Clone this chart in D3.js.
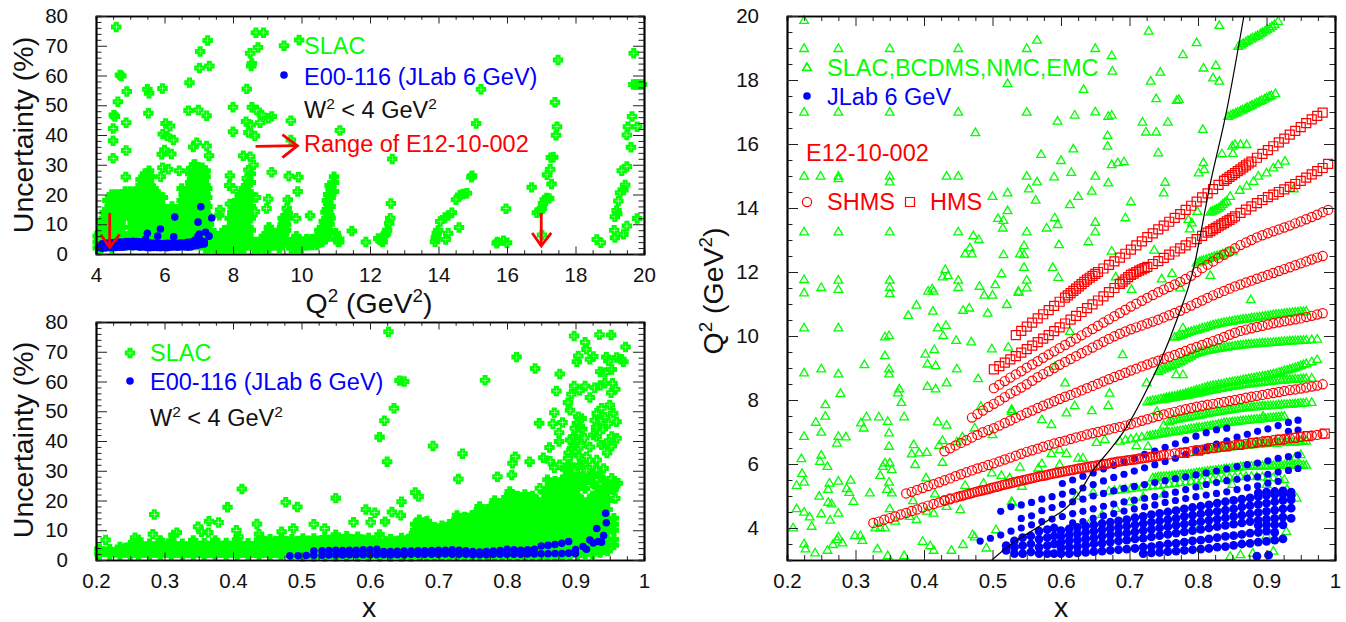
<!DOCTYPE html>
<html>
<head>
<meta charset="utf-8">
<script src="https://cdnjs.cloudflare.com/ajax/libs/d3/7.8.5/d3.min.js"></script>
<style>
  body { margin: 0; background: #fff; }
  text { font-family: "Liberation Sans", Arial, sans-serif; }
</style>
</head>
<body>
<svg id="chart" width="1346" height="622"></svg>
<script>
// tick labels
var q2Ticks = [4, 6, 8, 10, 12, 14, 16, 18, 20]
var q2Minor = [4.5, 5, 5.5, 6.5, 7, 7.5, 8.5, 9, 9.5, 10.5, 11, 11.5, 12.5, 13, 13.5, 14.5, 15, 15.5, 16.5, 17, 17.5, 18.5, 19, 19.5]
var uncTicks = [0, 10, 20, 30, 40, 50, 60, 70, 80]
var uncMinor = [2, 4, 6, 8, 12, 14, 16, 18, 22, 24, 26, 28, 32, 34, 36, 38, 42, 44, 46, 48, 52, 54, 56, 58, 62, 64, 66, 68, 72, 74, 76, 78]
var xTicks = [0.2, 0.3, 0.4, 0.5, 0.6, 0.7, 0.8, 0.9, 1]
var xMinor = [0.225, 0.25, 0.275, 0.325, 0.35, 0.375, 0.425, 0.45, 0.475, 0.525, 0.55, 0.575, 0.625, 0.65, 0.675, 0.725, 0.75, 0.775, 0.825, 0.85, 0.875, 0.925, 0.95, 0.975]
var kinTicks = [4, 6, 8, 10, 12, 14, 16, 18, 20]
var kinMinor = [3, 3.5, 4.5, 5, 5.5, 6.5, 7, 7.5, 8.5, 9, 9.5, 10.5, 11, 11.5, 12.5, 13, 13.5, 14.5, 15, 15.5, 16.5, 17, 17.5, 18.5, 19, 19.5]

// top left panel: SLAC isolated points [Q2, uncertainty]
var slacQ2Scatter = [[4.59,76.3],[4.7,60.2],[4.74,59.8],[4.9,54.6],[4.64,51.2],[4.52,46.7],[4.55,46.2],[4.5,42.2],[4.88,44.1],[4.5,38.1],[4.88,34.8],[4.5,32.2],[4.87,25.9],
[5.5,55.4],[5.55,54],[5.53,47.3],[5.94,55.6],[6.03,43.9],[6.16,43],[5.95,40.3],[6.08,39.7],[6.26,38.3],[6,35],[5.92,33.5],[6.2,33.6],[5.94,29],[6.11,28.5],[5.89,26],[6.43,28],[6.7,27.9],
[6.73,57.6],[7.02,62.5],[7.31,63.2],[7.04,68.1],[7.26,71.8],[6.7,48.2],[6.99,48.4],[7.23,46.5],[6.84,36],[6.94,37.4],[7.23,36.3],[7.3,33],[6.89,30.1],
[8,49.3],[8,41.1],[8.4,55.5],[8.67,74.4],[8.89,74.4],[8.73,69.4],[8.5,67.5],[8.55,64],[8.53,63.2],[8.55,49.3],[8.69,48.4],[8.84,46.7],[8.79,44.1],[8.38,44.5],[8.52,43.4],[8.45,40.8],[8.64,39.7],[9.13,46.2],[9.03,45.6],[9.69,44.8],[9.49,70],[9.93,71.9],[9.69,38.3],[9.13,27.5],[9.63,26.2],[9.91,25.8],[9.89,21],[9.6,18.2],[9.57,15.4],[9.6,13.7],[9.84,12],[10.25,12.9],
[8.3,33],[8.5,32.7],[8.6,29.9],[7.91,26.3],[8.45,28.2],[7.89,23],[8.0,22],[8.4,25.4],[8.67,19],[9.03,18.5],[8.64,14.2],[8.98,15.3],[7.62,14.8],[7.91,16.8],
[11.12,41.5],[12.61,17],[12.65,31.9],[11.47,7.7],[15.24,55.4],[15.1,43.9],[14.98,26.3],[14.96,25.8],[17.49,65.2],[17.4,51],[17.46,42.8],[17.43,39.9],[17.35,32.5],[17.28,32.4],[17.26,28.5],[17.17,26.6],[17.3,23.5],[16.72,22.4],[15.97,15.2],
[19.7,67.5],[19.69,57],[19.76,57],[19.82,57],[19.88,57],[19.94,57],[19.65,46.2],[19.53,42.8],[19.8,42.8],[19.5,40],[19.62,35.9],[19.5,29.4],[19.35,28],[19.45,23.2],[19.4,21.5],[19.3,20.6],[19.25,17.8],[19.2,14.6],[19.15,12.5],[19.22,13.5],[19.8,11.9],[19.5,9.4],[19.4,6.6],[19.13,8],[19.15,5.5],[18.62,4.9],[18.74,3.8],
[13.9,4.1],[13.92,5.5],[13.95,7],[13.99,8],[14.05,10.9],[14.19,12.3],[14.28,12.9],[14.39,13.9],[14.51,18.2],[14.63,19.8],[14.72,20.2],[14.83,20.4],[14.6,8.9],[14.28,7],[14.21,4.9],
[12.24,5.2],[11.88,4],[11.07,4.1],[12.37,4],[12.44,6.4],[12.5,8],[12.56,10.3],[12.59,12],[12.35,5],[12.3,4.6],[12.47,7],
[15.7,3.6],[15.72,4],[15.9,4.5],[16,3.8],[17.02,6.4],[16.87,13.9],[16.95,14.3],[17.02,15.3],[17.1,18.2],[17.23,18.7],[17.05,17],[17.16,18.8],[16.98,14.8]]

// top left panel: SLAC dense columns [Q2, uncertainty, uncertainty, ...]
var slacQ2Dense = [[4.05,2,4,6],[4.15,2,5,8,11],[4.25,3,6,9,12,14],[4.33,4,8,12,15,18],[4.46,2,5,9,13,17,20],[4.6,3,6,10,14,17,20],[4.72,3,7,11,15,18,20],[4.85,3,6,15,18,21],[5,3,6,9,12,16,19,21],[5.14,3,6,10,13,17,21],[5.3,3,7,11,15,19,23,25],[5.43,3,7,11,15,19,23,27],[5.55,4,8,12,16,20,24,28],[5.68,3,6,10,14,18,22],[5.82,3,6,10,13,18,20],[5.95,3,6,9,13,16,19],[6.1,3,6,9,12,14],[6.22,3,6,9,12,16],[6.36,3,6,9,12,15],[6.5,3,6,9,12,15,18,22],[6.62,3,6,9,12,15,18,20],[6.75,3,6,9,12,15,18,21,24,27],[6.86,3,6,9,12,15,18,21,24,27,30],[6.98,3,6,9,12,15,18,21,24,27,29],[7.1,3,6,9,12,15,18,21,24,27,29],[7.2,2,5,8,11,14,17,20,23,26,28],[7.3,2,4,7,10],[7.45,2,4,7],[7.6,2,4,6,13],[7.75,2,4,6,8],[7.9,2,4,6,9,12],[8.05,2,4,7,10,13,16],[8.2,2,5,8,11,14,17,20],[8.32,2,5,8,11,14,17,20,22],[8.45,3,6,9,12,15,18,21,24],[8.62,2,4],[8.75,2,4],[8.9,2,4,6],[9.05,2,4,6,8,9],[9.2,3,6],[9.35,2,4,6,8],[9.45,3,6,8,10,12],[9.55,4,8,10,12],[9.7,2,4],[9.85,2,4,6],[10,2,4],[10.15,3,5],[10.3,3,5],[10.45,3,5,6],[10.6,4,7,9],[10.7,5,8,11,14],[10.78,8,11,14,17,20],[10.85,12,16,19,22],[10.95,21,24,26],[11,5,7],[11.1,4,5]]
var slacQ2DenseMid = [[4.1,3,5,7],[4.2,3.5,6.5,9.5],[4.3,4.5,7.5,10.5,13],[4.4,3,6,10,14,16],[4.53,3.5,7,11,15,18.5],[4.66,4.5,8,12,16,19],[4.78,5,9,13,16.5,19.5],[4.92,4.5,16.5,19.5],[5.07,4.5,7.5,11,14,17.5,20],[5.22,4.5,8,12,15,19],[5.36,5,9,13,17,21,24],[5.49,5,9,13,17,21,25],[5.62,5,10,14,18,22,26],[5.75,4.5,8,12,16,20],[5.88,4.5,8,11.5,15],[6.02,4.5,7.5,11,14.5],[6.16,4.5,7.5,10.5],[6.3,4.5,7.5,10.5,14],[6.43,4.5,7.5,10.5,13.5],[6.56,4.5,7.5,10.5,13.5,16.5,20],[6.68,4.5,7.5,10.5,13.5,16.5,19,22],[6.8,4.5,7.5,10.5,13.5,16.5,19.5,22.5,25],[6.92,4.5,7.5,10.5,13.5,16.5,19.5,22.5,25.5,28],[7.04,4.5,7.5,10.5,13.5,16.5,19.5,22.5,25.5,28],[7.15,3.5,6.5,9.5,12.5,15.5,18.5,21.5,24.5,27],[7.25,3.5,6.5,9.5,13,16,19,22],[7.38,3,5.5],[7.52,3,5],[7.68,3,5],[7.82,3,5,7],[7.98,3,5.5,8.5,11.5,14],[8.12,3,5.5,9,12,15,18],[8.26,3.5,6.5,9.5,12.5,15.5,18.5],[8.38,3.5,6.5,9.5,12.5,15.5,18.5,21.5,23],[8.52,4,8,12,16,20,24,27],[9.13,3,5,7],[9.5,5,7,9,11],[10.08,3,4],[10.22,3,4],[10.38,4],[10.52,4,6,8],[10.65,5,8,11],[10.74,6,9,12,15,18],[10.82,10,13,16,20,23]]

// top left panel: E00-116
var jlabQ2Dense = [[4.08,2.2],[4.18,1.9,3.4],[4.28,2,3.6],[4.38,2.2,3.7],[4.48,2.1,3.8],[4.58,2.2,3.9],[4.68,2.3,4],[4.78,2.3,4],[4.88,2.4,4.2],[4.98,2.5,4.2],[5.08,2.4,4.3],[5.18,2.5,4.2],[5.28,2.3,4.1],[5.38,2.4,4],[5.48,2.2,3.8],[5.58,2.1,3.7],[5.68,2.2,3.6],[5.78,2.2,3.7],[5.88,2.1,3.5],[5.98,2.2,3.5],[6.08,2.1,3.6],[6.18,2.3,3.6],[6.28,2.4,3.5],[6.38,2.3,3.6],[6.48,2.4,3.7],[6.58,2.4,3.7],[6.68,2.3,3.9],[6.78,2.4,4],[6.88,2.8,4.6],[6.98,3,5.1],[7.06,3.2,4.6],[7.16,3.4,4.1]]
var jlabQ2Scatter = [[5.5,7],[5.45,5],[5.8,6],[5.88,8.4],[6.27,5.8],[6.3,12.4],[6.98,10.7],[7.06,15.9],[7.38,12.1],[7.2,7.3],[7.3,6],[6.97,5.9],[7.02,6.7]]

// bottom left panel: SLAC isolated points [x, uncertainty]
var slacXScatter = [[0.627,76.7],[0.898,75.3],[0.935,75.7],[0.952,75.6],[0.914,73.2],[0.973,71.6],[0.96,68.1],[0.916,70.8],[0.904,68.6],[0.902,66.6],[0.926,68.4],[0.921,67.5],[0.945,68.2],[0.948,66.9],[0.97,66.6],[0.967,67.5],[0.936,63.3],[0.943,63],[0.953,64],[0.814,68.2],[0.841,64.4],[0.877,62.5],[0.768,60.4],[0.643,60.3],[0.65,60],[0.635,51],[0.621,46.8],[0.614,41.3],[0.625,33],[0.692,38.3],[0.735,35.7],[0.729,27.2],[0.786,28],[0.807,28.6],[0.812,34.7],[0.808,32.5],[0.833,33],[0.55,20.8],[0.666,22.7],[0.671,21.3],[0.646,19.6],[0.594,17],[0.607,15.9],[0.632,16.1],[0.645,15],[0.576,12.7],[0.601,12.7],[0.622,12.9],
[0.214,6.7],[0.285,15.3],[0.413,23.9],[0.392,17.7],[0.477,19.4],[0.494,17.8],[0.365,13],[0.379,12.6],[0.349,11.2],[0.435,12.1],[0.518,12],[0.534,10.6],[0.488,10.6],[0.405,10],[0.318,9.2],[0.283,8.7],[0.257,7.5],[0.438,8.7],[0.408,7.8],[0.364,9.2],[0.354,9.5],[0.313,8.4],[0.471,9.5],
[0.898,58.5],[0.894,55.7],[0.906,57],[0.914,58.5],[0.921,54.6],[0.928,57.9],[0.936,58.7],[0.943,59.4],[0.954,59.4],[0.958,57.4],[0.952,56.2],[0.872,56.8],[0.889,52.9],[0.892,50.3],[0.869,49.5],[0.847,46],[0.867,45.8],[0.881,46.2],[0.876,42.8],[0.876,39.8],[0.862,37.8],[0.853,34.4],[0.863,33.2],[0.877,32],[0.848,24.1],
[0.904,48.2],[0.909,47.6],[0.899,44.3],[0.897,41.5],[0.892,40.3],[0.906,44.8],[0.904,42.6],[0.926,42],[0.931,41.5],[0.921,38],[0.938,38.7],[0.953,41.5],[0.96,40.9],[0.945,39.2],[0.953,38.3],[0.948,45.9],[0.96,46.5],[0.931,49.3],[0.938,51],[0.95,52.1],[0.955,49.3],[0.928,47],[0.936,47],[0.899,36.4],[0.889,34.2],[0.916,34.7],[0.931,33.6],[0.906,31.9],[0.916,30.2],[0.931,30.2],[0.941,30.8],[0.899,29.7],[0.953,27.5],[0.962,25.8],[0.955,23.5],[0.958,20.7],[0.9,40],[0.908,38.5],[0.913,41],[0.895,37.5],[0.91,44],[0.902,46],[0.898,38.5],[0.89,36],[0.885,30.5],[0.869,31],[0.905,35],[0.912,32],[0.925,32],[0.946,36],[0.94,44],[0.943,48],[0.93,44.5]]

// bottom left panel: SLAC dense columns [x, uncertainty, uncertainty, ...]
var slacXDense = [[0.205,2,3.8],[0.22,1.8,3.6],[0.235,1.7,3.4,4.4],[0.25,1.6,3.5,5],[0.262,1.6,3.5,5.5,6.8],[0.278,1.6,3.6,5.5],[0.294,1.5,3.5,5.5,6.6],[0.31,1.5,3.5,5.6,6.5],[0.326,1.5,3.5,5.5],[0.342,1.5,3.6,5.6,6.6],[0.358,1.5,3.6,5.7],[0.374,1.5,3.5,5.6,6.6],[0.39,1.5,3.6,5.7],[0.406,1.5,3.6,5.7,6.8],[0.422,1.5,3.6,5.6],[0.438,1.5,3.5,5.6,6.8],[0.454,1.5,3.5,5.6,7],[0.47,1.4,3.5,5.7,7.2],[0.486,1.4,3.5,5.6,7],[0.502,1.2,3.6,5.7,7.2],[0.518,1.2,3.6,5.8,7.2],[0.534,1.2,3.6,5.8,7.6],[0.55,1.2,3.6,5.8,8.5],[0.566,1.2,3.6,6,8],[0.582,1.2,3.6,6,7.8],[0.598,1.2,3.6,5.8,7.4],[0.614,1.2,3.5,5.6,8.6],[0.63,1.2,3.5,5.6,7],[0.646,1.2,3.5,5.6,7.4],[0.66,1.2,3.6,6,8],
[0.672,1.3,4,6.5,9,11.5,13.5],[0.683,1.3,4,6.5,9,11.5,13],[0.694,1.3,4,6.5,9,11],[0.705,1.3,4,6.5,9,11.5],[0.716,1.3,4,6.5,9,11,12],[0.727,1.3,4,6.5,9,11.5,15],[0.738,1.3,4,6.5,9,11.5,14.5],[0.749,1.3,4,6.5,9,11.5,15],[0.76,1.3,4,6.5,9,11.5,14,18],[0.771,1.3,4,6.5,9,11.5,14,17],[0.782,1.3,4,6.5,9,11.5,14,16.5,20],[0.793,1.3,4,6.5,9,11.5,14,16.5,19],[0.804,1.3,4,6.5,9,11.5,14,16.5,19,23],[0.815,1.3,4,6.5,9,11.5,14,16.5,19,21.5],[0.826,1.3,4,6.5,9,11.5,14,16.5,19,22],[0.837,1.3,4,6.5,9,11.5,14,16.5,19,21.5],[0.848,1.3,4,6.5,9,11.5,14,16.5,19],[0.859,1.3,4,6.5,9,11.5,14,16.5,19,21.5,24,27],[0.87,1.3,4,6.5,9,11.5,14,16.5,19,21.5,24,26.5],[0.881,1.3,4,6.5,9,11.5,14,16.5,19,21.5,24,27],[0.892,1.5,4,6.5,9,11.5,14,16.5,19,21.5,24,26.5,29,32],[0.903,1.5,4,6.5,9,11.5,14,16.5,19,21.5,24,26],[0.914,2,4,6.5,9,11.5,14,16.5,19,24,27],[0.925,2,4,6.5,9,11.5,14,16.5,19,21.5,26,29],[0.936,2.5,4.5,7,9.5,12,14,16.5,19,21,23,28],[0.947,3,5,7,9.5,12,14,17,20,23,25.5],[0.956,5,7,10,12,14,24,26]]
var slacXDenseMid = [[0.212,2.8],[0.228,2.6],[0.243,2.5,4],[0.256,2.5,4.3],[0.27,2.5,4.5],[0.286,2.5,4.5],[0.302,2.5,4.5],[0.318,2.5,4.5],[0.334,2.5,4.5],[0.35,2.5,4.6],[0.366,2.5,4.6],[0.382,2.5,4.6],[0.398,2.5,4.6],[0.414,2.5,4.6],[0.43,2.5,4.6],[0.446,2.5,4.6,6.4],[0.462,2.5,4.6,6.4],[0.478,2.5,4.6,6.4],[0.494,2.4,4.6,6.4],[0.51,2.4,4.7,6.5],[0.526,2.4,4.7,6.5],[0.542,2.4,4.7,6.8],[0.558,2.4,4.8,7],[0.574,2.4,4.8,7],[0.59,2.4,4.8,6.8],[0.606,2.4,4.6,6.6],[0.622,2.4,4.5,6.3],[0.638,2.4,4.5,6.3],[0.654,2.4,4.6,6.6],[0.666,2.6,5,7.5,10,12],
[0.678,2.6,5.2,7.8,10.2,12.4],[0.689,2.6,5.2,7.8,10.2],[0.7,2.6,5.2,7.8,10.2],[0.711,2.6,5.2,7.8,10.2],[0.722,2.6,5.2,7.8,10.2,12.5],[0.733,2.6,5.2,7.8,10.2,13],[0.744,2.6,5.2,7.8,10.2,13],[0.755,2.6,5.2,7.8,10.2,12.8,16],[0.766,2.6,5.2,7.8,10.2,12.8,15.5],[0.777,2.6,5.2,7.8,10.2,12.8,15.2,18],[0.788,2.6,5.2,7.8,10.2,12.8,15.2,17.8],[0.799,2.6,5.2,7.8,10.2,12.8,15.2,17.8,21],[0.81,2.6,5.2,7.8,10.2,12.8,15.2,17.8,20.2],[0.821,2.6,5.2,7.8,10.2,12.8,15.2,17.8,20.2],[0.832,2.6,5.2,7.8,10.2,12.8,15.2,17.8,20.2],[0.843,2.6,5.2,7.8,10.2,12.8,15.2,17.8,20.2],[0.854,2.6,5.2,7.8,10.2,12.8,15.2,17.8,20.2,22.8],[0.865,2.6,5.2,7.8,10.2,12.8,15.2,17.8,20.2,22.8,25.2],[0.876,2.6,5.2,7.8,10.2,12.8,15.2,17.8,20.2,22.8,25.2],[0.887,2.8,5.2,7.8,10.2,12.8,15.2,17.8,20.2,22.8,25.2,28,30.5],[0.898,2.8,5.2,7.8,10.2,12.8,15.2,17.8,20.2,22.8,25.2,27.5],[0.909,3,5.2,7.8,10.2,12.8,15.2,17.8,20.2,25.5,28],[0.92,3,5.2,7.8,10.2,12.8,15.2,17.8,20.2,27.5],[0.931,3.5,5.8,8.2,10.8,13,15.2,17.8,20,24.5],[0.942,4,6,8.2,10.8,13,15.5,18.5,21.5,24.2,26.5]]

// bottom left panel: E00-116
var jlabXDense = [[0.483,1.4],[0.495,1.4],[0.507,1.5],[0.518,1.6,3],[0.53,1.6,3.1],[0.54,1.7,3.2],[0.55,1.7,3.3],[0.56,1.7,3.2],[0.57,1.8,3.3],[0.58,1.8,3.3],[0.59,1.8,3.4],[0.6,1.8,3.4],[0.61,1.8,3.6],[0.62,1.8,2.8],[0.63,1.7,2.8],[0.64,1.8,2.9],[0.65,1.8,3],[0.66,1.9,3],[0.67,1.9,3.1],[0.68,1.9,3.1],[0.69,1.9,3.2],[0.7,1.9,3.3],[0.71,2,3.3],[0.72,1.9,3.4],[0.73,1.9,3.3],[0.74,1.9,3.1],[0.75,1.8,2.8],[0.76,1.8,2.7],[0.77,1.8,2.8],[0.78,1.9,3],[0.79,1.9,3.2],[0.8,1.9,3.6],[0.81,1.9,3.4],[0.82,1.9,3.3],[0.83,2,3.4],[0.84,2,3.6],[0.85,2.1,4.7],[0.86,2.1,4.9],[0.87,2.2,5.2],[0.88,2.2,5.6],[0.89,2.3,6.2],[0.9,2.2,3.5]]
var jlabXScatter = [[0.911,4.5],[0.916,3.6],[0.921,6.7],[0.926,5.7],[0.931,10.6],[0.941,8.2],[0.945,12.5],[0.944,15.7],[0.933,6.2],[0.938,6]]

// right panel: green points, isolated [x, Q2]
var worldScatter = [[0.225,19.85],[0.225,18.97],[0.275,18.97],[0.35,18.97],[0.45,18.97],[0.229,18.38],[0.522,17.87],[0.225,16.98],[0.275,16.98],[0.35,16.98],[0.45,16.98],[0.475,16.34],[0.225,14.98],[0.249,14.98],[0.275,14.98],[0.275,14.9],[0.35,14.98],[0.35,14.8],[0.433,14.98],[0.45,14.98],[0.5,14.35],[0.522,14.46],[0.522,13.9],[0.508,13.66],[0.516,13.6],[0.515,13.36],[0.225,13.24],[0.275,13.24],[0.35,13.24],[0.45,13.24],[0.472,13.12],[0.48,13],[0.467,12.74],[0.46,12.55],[0.47,12.55],[0.516,12.53],[0.54,12.55],[0.431,12.06],[0.427,11.83],[0.435,11.87],[0.513,11.93],[0.225,11.75],[0.275,11.73],[0.35,11.73],[0.45,11.73],[0.45,11.5],[0.481,11.54],[0.504,11.59],[0.25,11.5],[0.275,11.44],[0.35,11.5],[0.35,11.31],[0.225,11.33],[0.412,11.46],[0.406,11.39],[0.414,11.39],[0.488,11.26],[0.5,11.26],[0.538,11.39],[0.521,10.97],[0.389,10.95],[0.413,10.76],[0.457,10.79],[0.466,10.86],[0.493,10.7],
[0.377,10.63],[0.225,10.24],[0.275,10.24],[0.42,10.24],[0.432,10.32],[0.343,9.96],[0.349,10],[0.428,10],[0.447,9.85],[0.469,9.8],[0.343,9.37],[0.402,9.42],[0.415,9.56],[0.499,9.58],[0.523,9.64],[0.313,9.09],[0.405,9.11],[0.417,9.06],[0.349,8.96],[0.349,8.8],[0.25,8.96],[0.225,8.83],[0.275,8.8],[0.448,8.96],[0.479,8.65],[0.433,8.52],[0.405,8.41],[0.417,8.33],[0.364,8.33],[0.362,8.21],[0.278,8.19],[0.367,7.91],[0.256,7.84],[0.483,7.79],[0.528,7.69],[0.256,7.48],[0.316,7.46],[0.334,7.46],[0.371,7.46],[0.242,7.29],[0.308,7.27],[0.347,7.32],[0.42,7.3],[0.433,7.2],[0.312,7.11],[0.25,6.98],[0.349,6.96],[0.225,6.85],[0.275,6.85],[0.286,6.83],[0.273,6.64],[0.385,6.59],[0.349,6.54],[0.427,6.72],[0.422,6.57],[0.448,6.68],[0.456,6.83],[0.474,7.11],[0.5,6.9],[0.382,6.3],[0.393,6.33],[0.404,6.35],[0.25,6.26],[0.221,6.15],[0.248,6.07],[0.259,5.91],[0.343,6.02],[0.35,6.02],[0.34,5.91],[0.353,5.81],[0.387,5.97],[0.427,6.04],[0.222,5.69],[0.336,5.63],[0.403,5.55],[0.225,5.42],[0.214,5.32],[0.262,5.39],[0.275,5.45],[0.293,5.48],[0.349,5.42],[0.26,5.19],[0.287,5.22],[0.291,5.1],[0.346,5.19],[0.353,5.08],[0.247,4.98],[0.321,5.08],[0.416,5.05],[0.46,5.32],[0.487,5.39],[0.499,5.71],[0.513,5.63],[0.525,5.55],[0.297,4.82],[0.26,4.79],[0.265,4.74],[0.214,4.59],[0.225,4.48],[0.25,4.43],[0.275,4.45],[0.233,4.33],[0.263,4.23],[0.236,4.04],[0.209,3.99],[0.35,4.59],[0.384,4.84],[0.453,4.56],[0.433,4.66],[0.404,4.51],[0.414,4.45],[0.389,4.25],[0.379,4.35],[0.358,4.2],[0.336,3.99],[0.343,3.99],[0.329,3.99],[0.299,3.75],[0.307,3.75],[0.31,3.6],[0.275,3.71],[0.273,3.62],[0.281,3.52],[0.267,3.47],[0.259,3.29],[0.225,3.49],[0.227,3.33],[0.241,3.21],[0.332,3.33],[0.347,3.12],[0.371,3.12],[0.398,3.57],[0.409,3.43],[0.414,3.29],[0.44,3.29],[0.457,3.47],[0.471,3.78],[0.474,3.71],[0.491,3.36],[0.505,3.93],[0.529,4.77],
[0.565,19.23],[0.55,18.97],[0.65,18.97],[0.674,18.75],[0.675,18.26],[0.633,17.69],[0.55,16.98],[0.62,16.89],[0.65,16.99],[0.669,16.85],[0.674,16.89],[0.595,16.7],[0.719,16.67],[0.724,16.36],[0.739,16.36],[0.756,16.67],[0.668,16.25],[0.668,15.92],[0.618,15.83],[0.571,15.66],[0.6,15.47],[0.674,15.34],[0.683,15.4],[0.692,15.43],[0.742,15.71],[0.728,19.51],[0.831,19.69],[0.798,19.15],[0.778,18.78],[0.808,18.36],[0.826,18.44],[0.745,18.23],[0.731,17.95],[0.822,18.05],[0.831,17.95],[0.739,17.4],[0.769,17.35],[0.772,17.38],[0.807,16.44],[0.835,15.68],[0.85,15.92],[0.854,15.97],[0.862,15.97],[0.871,15.97],[0.851,15.69],[0.808,15.4],[0.801,15.08],[0.809,15.19],
[0.55,14.98],[0.59,14.96],[0.615,15.1],[0.65,14.98],[0.565,14.8],[0.553,14.58],[0.669,14.77],[0.645,14.51],[0.625,14.35],[0.613,14.09],[0.563,14.23],[0.702,14.18],[0.752,14.79],[0.75,14.46],[0.591,13.68],[0.595,13.47],[0.579,13.36],[0.65,13.54],[0.65,13.24],[0.694,13.68],[0.55,13.24],[0.546,12.81],[0.546,12.53],[0.597,12.84],[0.64,12.93],[0.674,12.64],[0.736,12.67],[0.546,12.13],[0.588,12.13],[0.596,11.82],[0.55,11.73],[0.55,11.49],[0.538,11.35],[0.68,11.83],[0.747,11.77],[0.762,11.94],[0.703,11.44],[0.774,11.49],[0.818,11.88],[0.877,11.12],[0.94,14.58],[0.799,13.88],[0.786,13.63],[0.791,13.52],[0.788,13.33],
[0.895,7.48],[0.778,10.24],[0.69,9.4],[0.606,8.52],[0.608,7.58],[0.62,7.81],[0.645,7.65],[0.669,7.81],[0.671,8.2],[0.725,8.52],[0.768,8.78],[0.778,8.78],[0.74,7.63],[0.572,7.37],[0.586,7.22],[0.54,5.89],[0.572,6],[0.567,5.86],[0.586,6.31],[0.598,6.43],[0.608,6.31],[0.598,5.97],[0.625,6.17],[0.632,6.17],[0.652,6.66],[0.664,6.75],[0.71,6.56],[0.727,6.54],[0.613,10.13],[0.591,9.04],[0.528,7.63],[0.528,4.82],[0.543,5.29],[0.647,5.1],[0.623,4.98],
[0.62,3.8],[0.64,4.1],[0.66,4.4],[0.68,4.6],[0.7,4.8],[0.72,4.95],[0.75,5.05],[0.8,5.3],[0.85,5.35],[0.9,5.35],[0.93,5.2],[0.944,4.92],[0.6,3.6],[0.65,3.55],[0.7,3.75],[0.8,3.95],[0.9,3.75],[0.929,3.88],[0.91,3.26],[0.847,3.1],[0.862,3.15],[0.88,3.2]]

// right panel: green points along the upper bins
var worldBandTop = [[0.859,19.04],[0.863,19.08],[0.866,19.13],[0.87,19.18],[0.873,19.22],[0.877,19.26],[0.88,19.3],[0.884,19.34],[0.887,19.38],[0.891,19.43],[0.894,19.47],[0.898,19.52],[0.901,19.56],[0.905,19.61],[0.908,19.66],[0.912,19.72],[0.917,19.82]]
var worldBandNext = [[0.844,16.85],[0.848,16.89],[0.851,16.92],[0.855,16.95],[0.858,16.98],[0.862,17.02],[0.865,17.05],[0.869,17.09],[0.872,17.13],[0.876,17.17],[0.879,17.2],[0.883,17.24],[0.886,17.28],[0.89,17.32],[0.893,17.35],[0.897,17.39],[0.9,17.43],[0.904,17.47],[0.907,17.5],[0.913,17.56]]
var worldBandMid = [[0.818,13.86],[0.821,13.89],[0.824,13.92],[0.827,13.95],[0.83,13.98],[0.833,14.04],[0.836,14.1],[0.839,14.15],[0.842,14.2],[0.847,14.35],[0.861,14.54],[0.871,14.67],[0.881,14.82],[0.888,14.98],[0.9,15.08],[0.91,15.24],[0.917,15.34],[0.927,15.45]]
var worldBandLow = [[0.798,12.27],[0.802,12.3],[0.805,12.33],[0.808,12.35],[0.812,12.38],[0.816,12.41],[0.82,12.44],[0.824,12.47],[0.828,12.5],[0.832,12.52],[0.836,12.55],[0.84,12.58],[0.844,12.6],[0.851,12.64]]

// right panel: green columns [x, Q2, Q2, ...]
var worldDense = [[0.67,5.14],[0.678,5.16],[0.686,6.7,5.18],[0.694,6.74,5.2],[0.702,6.77,5.22],[0.71,6.8,5.24],[0.718,6.83,5.26],[0.726,7.93,6.86,5.28],[0.734,7.97,6.89,5.55,5.3],[0.742,8.88,8,6.92,5.58,5.32],[0.75,8.96,8.04,8,7.2,6.95,5.6,5.34],[0.758,9.03,8.08,8.04,7.3,6.98,5.61,5.36],[0.766,9.95,9.1,8.11,8.07,7.38,7,5.63,5.38],[0.774,10,9.18,8.15,8.1,7.4,7.03,5.65,5.4],[0.782,10.07,9.27,8.2,8.13,7.44,7.06,5.66,5.42],[0.79,10.13,9.36,8.25,8.16,7.47,7.09,5.68,5.44],[0.798,10.17,9.44,8.3,8.2,7.5,7.12,6.38,5.71,5.46],[0.806,10.23,9.5,8.35,8.23,7.53,7.14,6.41,5.73,5.48],[0.814,10.28,9.54,8.4,8.27,7.57,7.17,6.44,5.76,5.5],[0.822,10.33,9.57,8.44,8.31,7.6,7.2,6.46,5.78,5.51],[0.83,10.37,9.6,8.47,8.34,7.63,7.23,6.48,5.8,5.53],[0.838,10.41,9.63,8.5,8.37,7.65,7.27,6.5,5.83,5.54],[0.846,10.44,9.65,8.54,8.4,7.68,7.29,6.52,5.85,5.56],[0.854,10.47,9.68,8.57,8.43,7.71,7.31,6.54,5.87,5.58],[0.862,10.5,9.7,8.6,8.46,7.73,7.33,6.56,5.9,5.59],[0.87,10.52,9.72,8.64,8.48,7.75,7.35,6.58,5.91,5.6],[0.878,10.55,9.74,8.67,8.5,7.77,7.37,6.59,5.92,5.6],[0.886,10.57,9.75,8.7,8.52,7.78,7.39,6.6,5.92,5.59],[0.894,10.6,9.77,8.73,8.54,7.8,7.4,6.62,5.93,5.58],[0.902,10.62,9.78,8.76,8.56,7.81,7.42,6.63,5.93,5.57],[0.91,10.65,9.79,8.8,8.58,7.82,7.44,6.64,5.94,5.56],[0.918,10.67,9.8,8.85,8.6,7.83,7.46,6.65,5.94,5.55],[0.926,10.69,9.82,8.9,8.61,7.85,7.48,6.66,5.95,5.5],[0.934,10.71,9.83,8.95,8.63,7.86,6.67,6.1,5.95],[0.942,10.73,9.84,9,8.64,7.87,6.68,6.2,5.95],[0.95,10.75,9.85,9.06,8.65,7.89,6.69,6.28,5.95],[0.958,10.76,9.86,9.12,8.66,7.9,6.7,5.95],[0.966,9.87,9.18,8.67,7.91],[0.974,9.89,9.25]]
var worldDenseMid = [[0.73,7.95,6.87],[0.738,7.98,6.9,5.56],[0.746,8.92,8.02,6.93,5.59],[0.754,8.99,8.06,8.02,6.96,5.6],[0.762,9.06,8.1,8.05,7.34,6.99,5.62],[0.77,9.97,9.14,8.13,8.08,7.39,7.01,5.64],[0.778,10.03,9.22,8.17,8.11,7.42,7.04,5.65],[0.786,10.1,9.31,8.22,8.14,7.45,7.07,5.67],[0.794,10.15,9.4,8.27,8.18,7.48,7.1,5.69],[0.802,10.2,9.47,8.32,8.21,7.51,7.13,6.39,5.72],[0.81,10.25,9.52,8.37,8.25,7.55,7.15,6.42,5.74],[0.818,10.3,9.55,8.42,8.29,7.58,7.18,6.45,5.77],[0.826,10.35,9.58,8.45,8.32,7.61,7.21,6.47,5.79],[0.834,10.39,9.61,8.48,8.35,7.64,7.25,6.49,5.81],[0.842,10.42,9.64,8.52,8.38,7.66,7.28,6.51,5.84],[0.85,10.45,9.66,8.55,8.41,7.69,7.3,6.53,5.86],[0.858,10.48,9.69,8.58,8.44,7.72,7.32,6.55,5.88],[0.866,10.51,9.71,8.62,8.47,7.74,7.34,6.57,5.9],[0.874,10.53,9.73,8.65,8.49,7.76,7.36,6.58,5.91],[0.882,10.56,9.74,8.68,8.51,7.77,7.38,6.59,5.92],[0.89,10.58,9.76,8.71,8.53,7.79,7.39,6.61,5.92],[0.898,10.61,9.77,8.74,8.55,7.8,7.41,6.62,5.93],[0.906,10.63,9.78,8.78,8.57,7.81,7.43,6.63,5.93],[0.914,10.66,9.79,8.82,8.59,7.82,7.45,6.64,5.94],[0.922,10.68,9.81,8.87,8.6,7.84,7.47,6.65,5.94],[0.93,10.7,9.82,8.92,8.62,7.85,6.66,5.95],[0.938,10.72,9.83,8.97,8.63,7.86,6.67,5.95],[0.946,10.74,9.84,9.03,8.64,7.88,6.68,5.95],[0.954,10.75,9.85,9.09,8.65,7.89,6.69,5.95]]

// right panel: JLab 6 GeV
var jlabKinLines = [[0.482,3.59],[0.497,3.68],[0.512,3.78,4.52],[0.527,3.9,4.66],[0.542,4,4.3,4.72],[0.557,4.1,4.38,4.8],[0.572,4.2,4.54,4.9],[0.587,4.28,4.64,4.98],[0.602,4.36,4.74,5.06,5.39],[0.617,4.16,4.45,4.82,5.14,5.5],[0.632,4.2,4.52,4.9,5.25,5.62],[0.647,4.3,4.6,5,5.36,5.72],[0.662,4.38,4.68,5.08,5.47,5.85],[0.677,4.45,4.75,5.16,5.58,5.96],[0.692,4.53,4.82,5.24,5.68,6.07],[0.707,4.6,4.87,5.3,5.78,6.17],[0.722,4.66,4.93,5.36,5.88,6.3],[0.737,4.72,4.98,5.42,5.98,6.4],[0.752,4.8,5.05,5.48,6.08,6.52],[0.767,4.86,5.12,5.54,6.18,6.63],[0.782,4.92,5.2,5.6,6.3,6.75],[0.797,4.98,5.28,5.66,6.42,6.87],[0.812,5.03,5.36,5.72,6.52,6.98],[0.827,5.08,5.42,5.78,6.62,7.07],[0.842,5.13,5.48,5.85,6.72,7.12],[0.857,5.2,5.52,5.92,6.84],[0.872,5.26,5.56,5.98,6.93],[0.887,5.32,5.6,6.03,7.02],[0.902,5.4,5.68,6.1,7.1],[0.917,5.46,5.75,6.18,7.2],[0.932,5.8,6.23,7.02,7.3],[0.946,5.86,6.28,7.06,7.37]]
var jlabKinDense = [[0.52,3.3,3.45],[0.532,3.2,3.4,3.6],[0.544,3.2,3.45,3.7],[0.556,3.25,3.5,3.75],[0.568,3.2,3.4,3.65,3.9],[0.58,3.2,3.45,3.7,3.95],[0.59,3.2,3.5,3.75,4],[0.6,3.2,3.38,3.56,3.74,3.92],[0.612,3.2,3.4,3.6,3.78,3.97],[0.624,3.22,3.42,3.62,3.82,4.02],[0.636,3.24,3.46,3.66,3.86,4.06],[0.648,3.26,3.5,3.7,3.9,4.1],[0.66,3.28,3.52,3.74,3.94,4.14],[0.672,3.3,3.56,3.78,3.98,4.18],[0.684,3.32,3.6,3.82,4.02,4.22],[0.696,3.34,3.62,3.84,4.06,4.26],[0.708,3.36,3.66,3.88,4.1,4.32],[0.72,3.2,3.4,3.68,3.92,4.14,4.36],[0.732,3.22,3.42,3.72,3.96,4.18,4.42],[0.744,3.24,3.46,3.76,4,4.22,4.46],[0.756,3.26,3.5,3.8,4.04,4.26,4.5],[0.768,3.28,3.52,3.84,4.08,4.3,4.54],[0.78,3.3,3.56,3.88,4.12,4.36,4.6],[0.792,3.32,3.6,3.92,4.16,4.4,4.64],[0.804,3.34,3.62,3.96,4.2,4.44,4.68],[0.816,3.36,3.66,4,4.24,4.48,4.72],[0.828,3.4,3.7,4.04,4.28,4.52,4.78],[0.84,3.42,3.74,4.08,4.32,4.56,4.82],[0.852,3.46,3.76,4.12,4.36,4.6,4.86],[0.864,3.5,3.8,4.16,4.4,4.66,4.9],[0.876,3.52,3.84,4.2,4.44,4.7,4.94],[0.888,3.56,3.86,4.08,4.24,4.48,4.74,4.98,5.1],[0.9,3.58,3.9,4.1,4.28,4.52,4.78,5.02,5.12],[0.912,3.62,3.86,4.1,4.3,4.56,4.82,5.04,5.14],[0.924,3.66,4.1,4.34,4.6,4.86,5.06,5.16],[0.936,4.3,4.62,4.88,5.02,5.12],[0.886,3.12],[0.903,3.15]]

// right panel: E12-10-002 kinematics, x bins shared by all Q2 lines
var e12X = [0.326,0.334,0.342,0.35,0.358,0.366,0.374,0.382,0.39,0.398,0.406,0.414,0.422,0.43,0.438,0.446,0.454,0.462,0.47,0.478,0.486,0.494,0.502,0.51,0.518,0.526,0.534,0.542,0.55,0.558,0.566,0.574,0.582,0.59,0.598,0.606,0.614,0.622,0.63,0.638,0.646,0.654,0.662,0.67,0.678,0.686,0.694,0.702,0.71,0.718,0.726,0.734,0.742,0.75,0.758,0.766,0.774,0.782,0.79,0.798,0.806,0.814,0.822,0.83,0.838,0.846,0.854,0.862,0.87,0.878,0.886,0.894,0.902,0.91,0.918,0.926,0.934,0.942,0.95,0.958,0.966,0.974,0.982,0.99]
var shmsStarts = [0.326, 0.374, 0.43, 0.47, 0.502]
var shmsQ2 = [
  [4.16,4.2,4.26,4.31,4.36,4.42,4.47,4.53,4.58,4.64,4.7,4.75,4.8,4.85,4.9,4.95,5,5.05,5.09,5.14,5.18,5.22,5.27,5.31,5.36,5.4,5.44,5.48,5.52,5.56,5.6,5.63,5.67,5.71,5.74,5.77,5.81,5.84,5.87,5.9,5.93,5.96,5.99,6.02,6.05,6.08,6.1,6.13,6.15,6.18,6.2,6.23,6.25,6.28,6.3,6.33,6.35,6.38,6.4,6.43,6.45,6.47,6.5,6.52,6.55,6.57,6.59,6.61,6.63,6.65,6.68,6.7,6.72,6.74,6.76,6.78,6.8,6.82,6.85,6.87,6.89,6.91,6.94],
  [5.08,5.13,5.19,5.25,5.31,5.37,5.43,5.49,5.55,5.62,5.68,5.74,5.8,5.86,5.91,5.97,6.02,6.08,6.14,6.2,6.26,6.32,6.38,6.43,6.48,6.54,6.59,6.64,6.69,6.73,6.78,6.83,6.87,6.92,6.96,7,7.04,7.08,7.12,7.16,7.2,7.25,7.3,7.35,7.4,7.45,7.5,7.55,7.59,7.63,7.67,7.71,7.75,7.79,7.82,7.85,7.88,7.91,7.94,7.97,8,8.03,8.07,8.1,8.13,8.16,8.19,8.22,8.25,8.28,8.31,8.33,8.36,8.39,8.42,8.45,8.49],
  [6.4,6.49,6.58,6.66,6.74,6.83,6.91,6.99,7.06,7.12,7.2,7.28,7.36,7.44,7.52,7.6,7.67,7.75,7.82,7.89,7.96,8.03,8.1,8.16,8.23,8.3,8.37,8.44,8.51,8.58,8.65,8.72,8.78,8.85,8.92,8.98,9.05,9.11,9.17,9.23,9.29,9.35,9.41,9.47,9.53,9.6,9.66,9.72,9.78,9.84,9.9,9.97,10.04,10.1,10.16,10.2,10.24,10.28,10.32,10.36,10.4,10.43,10.46,10.49,10.52,10.55,10.59,10.63,10.67,10.71],
  [7.45,7.56,7.67,7.78,7.88,7.98,8.09,8.2,8.29,8.39,8.49,8.6,8.71,8.81,8.9,9,9.1,9.19,9.28,9.37,9.46,9.55,9.64,9.73,9.82,9.91,9.99,10.07,10.14,10.21,10.27,10.33,10.39,10.45,10.51,10.58,10.65,10.72,10.79,10.87,10.95,11.03,11.11,11.19,11.27,11.34,11.41,11.48,11.55,11.61,11.67,11.73,11.79,11.85,11.91,11.97,12.03,12.09,12.15,12.21,12.27,12.33,12.39,12.45,12.5],
  [8.37,8.48,8.59,8.7,8.8,8.9,9.01,9.11,9.21,9.32,9.42,9.52,9.62,9.72,9.82,9.92,10.02,10.12,10.22,10.32,10.42,10.52,10.62,10.72,10.82,10.92,11.01,11.1,11.19,11.28,11.37,11.45,11.53,11.61,11.69,11.78,11.88,12,12.12,12.23,12.33,12.44,12.54,12.64,12.74,12.84,12.92,13,13.08,13.15,13.21,13.27,13.33,13.39,13.45,13.52,13.58,13.65,13.72,13.79,13.87,13.94]
]
var shmsTight = [[0.43,4.87],[0.438,4.92],[0.45,4.98],[0.458,5.02],[0.466,5.07],[0.474,5.12],[0.482,5.16],[0.49,5.2],[0.498,5.25],[0.506,5.29],[0.514,5.34],[0.522,5.38],[0.53,5.42],[0.538,5.46],[0.546,5.5],[0.554,5.54],[0.562,5.58],[0.57,5.62],[0.578,5.65],[0.586,5.69],[0.594,5.72],[0.602,5.76],[0.61,5.79],[0.618,5.82],[0.626,5.86],[0.634,5.89],[0.642,5.92],[0.65,5.95],[0.658,5.98],[0.666,6],[0.674,6.04],[0.682,6.07],[0.69,6.09],[0.698,6.12],[0.706,6.14],[0.714,6.17],[0.722,6.19],[0.73,6.22],[0.738,6.24],[0.746,6.27]]
var hmsStarts = [0.502, 0.534]
var hmsQ2 = [
  [8.96,9.06,9.17,9.27,9.37,9.48,9.59,9.7,9.81,9.92,10.03,10.15,10.27,10.39,10.51,10.63,10.75,10.87,10.99,11.11,11.24,11.37,11.5,11.63,11.77,11.91,12,12.08,12.16,12.25,12.34,12.44,12.54,12.64,12.74,12.83,12.93,13.03,13.13,13.23,13.33,13.43,13.53,13.63,13.74,13.85,13.95,14.05,14.15,14.25,14.34,14.42,14.5,14.58,14.66,14.75,14.85,14.95,15.05,15.15,15.25,15.38],
  [10.03,10.16,10.29,10.42,10.55,10.68,10.81,10.94,11.07,11.2,11.34,11.48,11.62,11.76,11.88,12,12.11,12.22,12.33,12.45,12.57,12.7,12.83,12.96,13.09,13.21,13.33,13.45,13.57,13.69,13.81,13.94,14.07,14.2,14.33,14.46,14.59,14.72,14.85,14.97,15.09,15.21,15.33,15.45,15.57,15.69,15.81,15.93,16.05,16.17,16.29,16.41,16.53,16.65,16.77,16.88,16.98]
]
var hmsLow = [[0.78,6.35],[0.8,6.42],[0.82,6.5],[0.84,6.55],[0.86,6.6],[0.88,6.66],[0.9,6.71],[0.92,6.76],[0.94,6.82],[0.96,6.87],[0.985,6.95]]
// places where the squares bunch up
var hmsClumps = [[0.61,11.27],[0.618,11.41],[0.626,11.55],[0.634,11.69],[0.642,11.82],[0.65,11.94],[0.686,11.63],[0.69,11.7],[0.698,11.84],[0.706,11.95],[0.714,12.04],[0.722,12.12],[0.818,13.28],[0.826,13.38],[0.834,13.48],[0.842,13.58],[0.85,13.68],[0.838,14.85],[0.842,14.91],[0.85,15.03],[0.858,15.15],[0.866,15.27],[0.874,15.39]]

// right panel: W2 = 4 GeV2 line read at a few places, d3 curve smooths between them
var w2Line = [[0.499,3],[0.5255,3.47],[0.574,4.14],[0.623,4.98],[0.647,5.81],[0.671,6.43],[0.696,7.16],[0.72,8.1],[0.745,9.2],[0.769,10.5],[0.793,12.06],[0.817,14.67],[0.842,17.06],[0.867,20]]

// arrows in data units of the top left panel [x1, y1, x2, y2]
var rangeArrows = [[4.4, 13.8, 4.4, 2.2, 'v'], [17, 13.8, 17, 2.7, 'v'], [8.66, 36.2, 9.88, 36.4, 'h']]

var GREEN = '#00ff00'
var BLUE = '#0000ff'
var RED = '#ff0000'

var svg = d3.select('#chart')

function unpack (cols) {
  var out = []
  cols.forEach(function (c) {
    c.slice(1).forEach(function (v) { out.push([c[0], v]) })
  })
  return out
}

function draw_marks (g, data, scale_x, scale_y, symbol_path, attrs) {
  var sel = g.append('g')
    .attr('fill', attrs.fill || 'none')
    .attr('stroke', attrs.stroke || 'none')
    .attr('stroke-width', attrs.width || 0)
    .selectAll('path').data(data).join('path')
    .attr('d', symbol_path)
    .attr('transform', function (d) { return 'translate(' + scale_x(d[0]) + ',' + scale_y(d[1]) + ')' })
  return sel
}

var cross_sym = d3.symbol().type(d3.symbolCross).size(37)()
var dot_sym = d3.symbol().type(d3.symbolCircle).size(Math.PI * 3.8 * 3.8)()
var dot_sym_big = d3.symbol().type(d3.symbolCircle).size(Math.PI * 4.4 * 4.4)()
var dot_sym_small = d3.symbol().type(d3.symbolCircle).size(Math.PI * 3.6 * 3.6)()
var tri_sym = d3.symbol().type(d3.symbolTriangle).size(33)()
var circle_sym = d3.symbol().type(d3.symbolCircle).size(Math.PI * 4.6 * 4.6)()
var square_sym = d3.symbol().type(d3.symbolSquare).size(81)()

function draw_frame (scale_x, scale_y, t) {
  var frame = svg.append('g').attr('font-family', 'Liberation Sans')
  var x0 = scale_x.range()[0], x1 = scale_x.range()[1]
  var y0 = scale_y.range()[0], y1 = scale_y.range()[1]

  function style_axis (g) {
    g.selectAll('path').attr('stroke', '#000').attr('stroke-width', 1.7)
    g.selectAll('line').attr('stroke', '#222').attr('stroke-width', 1)
    g.selectAll('text').attr('fill', '#111').style('font-size', '20.5px')
      .style('font-family', '"Liberation Sans", Arial, sans-serif')
  }

  // bottom
  frame.append('g').attr('transform', 'translate(0,' + y0 + ')')
    .call(d3.axisBottom(scale_x).tickValues(t.xMinor).tickSize(-t.xMin).tickFormat(''))
    .call(style_axis)
  frame.append('g').attr('transform', 'translate(0,' + y0 + ')')
    .call(d3.axisBottom(scale_x).tickValues(t.xMajor).tickSizeInner(-t.xMaj).tickSizeOuter(0).tickPadding(13).tickFormat(function (d) { return String(d) }))
    .call(style_axis)
  // top
  frame.append('g').attr('transform', 'translate(0,' + y1 + ')')
    .call(d3.axisTop(scale_x).tickValues(t.xMinor).tickSize(-t.xMin).tickFormat(''))
    .call(style_axis)
  frame.append('g').attr('transform', 'translate(0,' + y1 + ')')
    .call(d3.axisTop(scale_x).tickValues(t.xMajor).tickSizeInner(-t.xMaj).tickSizeOuter(0).tickFormat(''))
    .call(style_axis)
  // left
  frame.append('g').attr('transform', 'translate(' + x0 + ',0)')
    .call(d3.axisLeft(scale_y).tickValues(t.yMinor).tickSize(-t.yMin).tickFormat(''))
    .call(style_axis)
  frame.append('g').attr('transform', 'translate(' + x0 + ',0)')
    .call(d3.axisLeft(scale_y).tickValues(t.yMajor).tickSizeInner(-t.yMaj).tickSizeOuter(0).tickPadding(28).tickFormat(function (d) { return String(d) }))
    .call(style_axis)
  // right
  frame.append('g').attr('transform', 'translate(' + x1 + ',0)')
    .call(d3.axisRight(scale_y).tickValues(t.yMinor).tickSize(-t.yMin).tickFormat(''))
    .call(style_axis)
  frame.append('g').attr('transform', 'translate(' + x1 + ',0)')
    .call(d3.axisRight(scale_y).tickValues(t.yMajor).tickSizeInner(-t.yMaj).tickSizeOuter(0).tickFormat(''))
    .call(style_axis)
}

// parts: [text, isSuperscript]
function rich_text (x, y, parts, size, color, rotate) {
  var t = svg.append('text')
    .attr('fill', color)
    .style('font-size', size + 'px')
  if (rotate) {
    t.attr('transform', 'translate(' + x + ',' + y + ') rotate(-90)').attr('text-anchor', 'middle')
  } else {
    t.attr('x', x).attr('y', y)
  }
  var was_sup = false
  parts.forEach(function (p) {
    var span = t.append('tspan').text(p[0])
    if (p[1]) {
      span.attr('dy', -size * 0.38).style('font-size', (size * 0.66) + 'px')
      was_sup = true
    } else if (was_sup) {
      span.attr('dy', size * 0.38)
      was_sup = false
    }
  })
  return t
}

// ---- top left
var xQ2 = d3.scaleLinear().domain([4, 20]).range([96, 644])
var yTop = d3.scaleLinear().domain([0, 80]).range([254, 16])
var g_top = svg.append('g')
draw_marks(g_top, slacQ2Scatter, xQ2, yTop, cross_sym, { stroke: GREEN, width: 2.3 })
draw_marks(g_top, unpack(slacQ2Dense).concat(unpack(slacQ2DenseMid)), xQ2, yTop, cross_sym, { fill: GREEN, stroke: GREEN, width: 2.3 })
draw_marks(g_top, unpack(jlabQ2Dense).concat(jlabQ2Scatter), xQ2, yTop, dot_sym, { fill: BLUE })
draw_frame(xQ2, yTop, { xMajor: q2Ticks, xMinor: q2Minor, yMajor: uncTicks, yMinor: uncMinor, xMaj: 7.5, xMin: 3.8, yMaj: 11, yMin: 5.5 })

rangeArrows.forEach(function (a) {
  var x1 = xQ2(a[0]), y1 = yTop(a[1]), x2 = xQ2(a[2]), y2 = yTop(a[3])
  var head = a[4] === 'v'
    ? ['M', x2 - 9, y2 - 13, 'L', x2, y2, 'L', x2 + 10, y2 - 13].join(' ')
    : ['M', x2 - 15, y2 - 11, 'L', x2, y2, 'L', x2 - 15, y2 + 12].join(' ')
  g_top.append('line').attr('x1', x1).attr('y1', y1).attr('x2', x2).attr('y2', y2)
    .attr('stroke', RED).attr('stroke-width', 2.8)
  g_top.append('path').attr('d', head).attr('fill', 'none').attr('stroke', RED).attr('stroke-width', 2.8)
})
svg.append('g').attr('fill', BLUE).append('path').attr('d', dot_sym).attr('transform', 'translate(284,75)')
rich_text(304, 54, [['SLAC']], 23.5, GREEN)
rich_text(304, 85, [['E00-116 (JLab 6 GeV)']], 23.5, BLUE)
rich_text(304, 118, [['W'], ['2', true], [' < 4 GeV'], ['2', true]], 23.5, '#111')
rich_text(304, 152, [['Range of E12-10-002']], 23.5, RED)
rich_text(369, 313, [['Q'], ['2', true], [' (GeV'], ['2', true], [')']], 28.5, '#111').attr('text-anchor', 'middle')
rich_text(33, 135, [['Uncertainty (%)']], 28.5, '#111', true)

// ---- bottom left
var xLow = d3.scaleLinear().domain([0.2, 1]).range([96, 644])
var yLow = d3.scaleLinear().domain([0, 80]).range([560, 322])
var g_low = svg.append('g')
draw_marks(g_low, slacXScatter, xLow, yLow, cross_sym, { stroke: GREEN, width: 2.3 })
draw_marks(g_low, unpack(slacXDense).concat(unpack(slacXDenseMid)), xLow, yLow, cross_sym, { fill: GREEN, stroke: GREEN, width: 2.3 })
draw_marks(g_low, unpack(jlabXDense).concat(jlabXScatter), xLow, yLow, dot_sym, { fill: BLUE })
draw_frame(xLow, yLow, { xMajor: xTicks, xMinor: xMinor, yMajor: uncTicks, yMinor: uncMinor, xMaj: 7.5, xMin: 3.8, yMaj: 11, yMin: 5.5 })

svg.append('g').attr('stroke', GREEN).attr('stroke-width', 2.3).attr('fill', 'none')
  .append('path').attr('d', cross_sym).attr('transform', 'translate(130,353)')
svg.append('g').attr('fill', BLUE).append('path').attr('d', dot_sym).attr('transform', 'translate(130,381)')
rich_text(150, 361, [['SLAC']], 23.5, GREEN)
rich_text(150, 390, [['E00-116 (JLab 6 GeV)']], 23.5, BLUE)
rich_text(150, 426, [['W'], ['2', true], [' < 4 GeV'], ['2', true]], 23.5, '#111')
rich_text(369, 617, [['x']], 28.5, '#111').attr('text-anchor', 'middle')
rich_text(33, 440, [['Uncertainty (%)']], 28.5, '#111', true)

// ---- right
var xKin = d3.scaleLinear().domain([0.2, 1]).range([787, 1335])
var yKin = d3.scaleLinear().domain([3, 20]).range([560, 16])
var g_kin = svg.append('g')

var worldPoints = worldScatter.concat(worldBandTop, worldBandNext, worldBandMid, worldBandLow, unpack(worldDense), unpack(worldDenseMid))
draw_marks(g_kin, worldPoints, xKin, yKin, tri_sym, { stroke: GREEN, width: 1.3 })
draw_marks(g_kin, unpack(jlabKinDense), xKin, yKin, dot_sym_big, { fill: BLUE })
draw_marks(g_kin, unpack(jlabKinLines), xKin, yKin, dot_sym_small, { fill: BLUE })

function zip_line (start, q2s) {
  var k = e12X.indexOf(start)
  return d3.zip(e12X.slice(k, k + q2s.length), q2s)
}
var red_attrs = { stroke: RED, width: 1.2 }
hmsQ2.forEach(function (q2s, i) {
  draw_marks(g_kin, zip_line(hmsStarts[i], q2s), xKin, yKin, square_sym, red_attrs)
})
draw_marks(g_kin, hmsLow.concat(hmsClumps), xKin, yKin, square_sym, red_attrs)
shmsQ2.forEach(function (q2s, i) {
  draw_marks(g_kin, zip_line(shmsStarts[i], q2s), xKin, yKin, circle_sym, red_attrs)
})
draw_marks(g_kin, shmsTight, xKin, yKin, circle_sym, red_attrs)

var w2_path = d3.line()
  .x(function (d) { return xKin(d[0]) })
  .y(function (d) { return yKin(d[1]) })
  .curve(d3.curveMonotoneX)
g_kin.append('path').attr('d', w2_path(w2Line)).attr('fill', 'none').attr('stroke', '#000').attr('stroke-width', 1.2)

draw_frame(xKin, yKin, { xMajor: xTicks, xMinor: xMinor, yMajor: kinTicks, yMinor: kinMinor, xMaj: 10, xMin: 5, yMaj: 11, yMin: 5.5 })

svg.append('g').attr('fill', 'none').attr('stroke', GREEN).attr('stroke-width', 1.3)
  .append('path').attr('d', tri_sym).attr('transform', 'translate(807,68)')
svg.append('g').attr('fill', BLUE).append('path').attr('d', dot_sym).attr('transform', 'translate(807,96)')
var legend_red = svg.append('g').attr('fill', 'none').attr('stroke', RED).attr('stroke-width', 1.2)
legend_red.append('path').attr('d', circle_sym).attr('transform', 'translate(807,202)')
legend_red.append('path').attr('d', square_sym).attr('transform', 'translate(910,202)')
rich_text(827, 76, [['SLAC,BCDMS,NMC,EMC']], 23.5, GREEN)
rich_text(827, 105, [['JLab 6 GeV']], 23.5, BLUE)
rich_text(806, 161, [['E12-10-002']], 23.5, RED)
rich_text(827, 210, [['SHMS']], 23.5, RED)
rich_text(930, 210, [['HMS']], 23.5, RED)
rich_text(1061, 617, [['x']], 28.5, '#111').attr('text-anchor', 'middle')
rich_text(723, 291, [['Q'], ['2', true], [' (GeV'], ['2', true], [')']], 28.5, '#111', true)
</script>
</body>
</html>
